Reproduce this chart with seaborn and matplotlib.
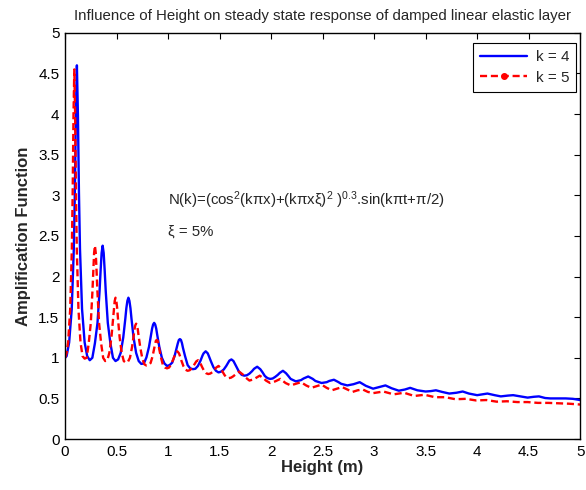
import numpy as np
import pandas as pd
import matplotlib
matplotlib.use("Agg")
import matplotlib.pyplot as plt
from matplotlib.lines import Line2D
import seaborn as sns

# ---- data ----
height_k4 = [0.0, 0.015, 0.04, 0.065, 0.085, 0.095, 0.105, 0.115, 0.125, 0.135, 0.145, 0.165, 0.19, 0.215, 0.24,
             0.265, 0.29, 0.315, 0.335, 0.345, 0.355, 0.365, 0.375, 0.385, 0.395, 0.415, 0.44, 0.465, 0.49,
             0.515, 0.54, 0.565, 0.585, 0.595, 0.605, 0.615, 0.625, 0.635, 0.645, 0.665, 0.69, 0.715, 0.74,
             0.765, 0.79, 0.815, 0.835, 0.845, 0.855, 0.865, 0.875, 0.885, 0.895, 0.915, 0.94, 0.965, 0.99,
             1.015, 1.04, 1.065, 1.085, 1.095, 1.105, 1.115, 1.125, 1.135, 1.145, 1.165, 1.19, 1.215, 1.24,
             1.265, 1.29, 1.315, 1.335, 1.345, 1.365, 1.385, 1.395, 1.415, 1.44, 1.465, 1.49,
             1.515, 1.54, 1.565, 1.585, 1.595, 1.615, 1.635, 1.645, 1.665, 1.69, 1.715, 1.74,
             1.765, 1.79, 1.815, 1.835, 1.865, 1.895, 1.915, 1.94, 1.965, 1.99,
             2.015, 2.04, 2.065, 2.085, 2.115, 2.145, 2.165, 2.19, 2.24,
             2.29, 2.315, 2.36, 2.405, 2.43, 2.49,
             2.54, 2.565, 2.61, 2.655, 2.68, 2.74,
             2.80, 2.86, 2.92, 2.99,
             3.05, 3.11, 3.17, 3.24,
             3.30, 3.35, 3.42, 3.50,
             3.55, 3.60, 3.66, 3.73,
             3.80, 3.86, 3.92, 4.00,
             4.05, 4.10, 4.17, 4.23,
             4.30, 4.35, 4.42, 4.49,
             4.55, 4.60, 4.66, 4.71,
             4.80, 4.86, 4.93, 5.00]
amp_k4 = [1.00, 1.02, 1.19, 1.60, 2.34, 3.03, 3.99, 4.60, 3.99, 3.03, 2.34, 1.60, 1.19, 1.02, 0.97,
          1.00, 1.18, 1.43, 1.82, 2.07, 2.29, 2.38, 2.29, 2.07, 1.82, 1.43, 1.18, 1.00, 0.96,
          0.98, 1.06, 1.25, 1.48, 1.61, 1.70, 1.74, 1.70, 1.61, 1.48, 1.25, 1.06, 0.96, 0.925,
          0.93, 1.005, 1.135, 1.28, 1.36, 1.41, 1.43, 1.41, 1.36, 1.28, 1.135, 1.00, 0.93, 0.90,
          0.91, 0.94, 1.03, 1.13, 1.18, 1.22, 1.23, 1.22, 1.18, 1.12, 1.02, 0.91, 0.87, 0.86,
          0.865, 0.90, 0.965, 1.03, 1.055, 1.08, 1.055, 1.025, 0.96, 0.885, 0.84, 0.82,
          0.83, 0.855, 0.90, 0.945, 0.965, 0.98, 0.96, 0.935, 0.885, 0.825, 0.79, 0.78,
          0.785, 0.805, 0.835, 0.865, 0.89, 0.86, 0.825, 0.775, 0.75, 0.74,
          0.745, 0.765, 0.79, 0.815, 0.84, 0.81, 0.78, 0.74, 0.71,
          0.725, 0.745, 0.77, 0.74, 0.715, 0.69,
          0.70, 0.715, 0.73, 0.70, 0.68, 0.66,
          0.675, 0.70, 0.655, 0.62,
          0.64, 0.66, 0.625, 0.595,
          0.61, 0.63, 0.60, 0.585,
          0.59, 0.60, 0.58, 0.56,
          0.57, 0.585, 0.56, 0.54,
          0.55, 0.56, 0.54, 0.525,
          0.535, 0.54, 0.525, 0.51,
          0.52, 0.525, 0.505, 0.50,
          0.50, 0.50, 0.495, 0.48]

height_k5 = [0.0, 0.015, 0.03, 0.05, 0.066, 0.074, 0.082, 0.09, 0.098, 0.106, 0.114, 0.13, 0.15, 0.17, 0.19,
             0.21, 0.23, 0.25, 0.266, 0.274, 0.282, 0.29, 0.298, 0.306, 0.314, 0.33, 0.35, 0.37, 0.39,
             0.41, 0.43, 0.45, 0.466, 0.474, 0.482, 0.49, 0.498, 0.506, 0.514, 0.53, 0.55, 0.57, 0.59,
             0.61, 0.63, 0.65, 0.666, 0.674, 0.682, 0.69, 0.698, 0.706, 0.714, 0.73, 0.75, 0.77, 0.79,
             0.81, 0.83, 0.85, 0.866, 0.874, 0.882, 0.89, 0.898, 0.906, 0.914, 0.93, 0.95, 0.97, 0.99,
             1.01, 1.03, 1.05, 1.066, 1.074, 1.09, 1.106, 1.114, 1.13, 1.15, 1.17, 1.19,
             1.21, 1.23, 1.25, 1.266, 1.274, 1.29, 1.306, 1.314, 1.33, 1.35, 1.37, 1.39,
             1.41, 1.43, 1.45, 1.466, 1.49, 1.514, 1.53, 1.55, 1.57, 1.59,
             1.61, 1.63, 1.65, 1.69, 1.73, 1.75, 1.79,
             1.83, 1.85, 1.89, 1.93, 1.95, 1.99,
             2.04, 2.09, 2.14, 2.19,
             2.24, 2.29, 2.34, 2.39,
             2.44, 2.49, 2.54, 2.59,
             2.64, 2.69, 2.74, 2.79,
             2.84, 2.89, 2.94, 2.99,
             3.09, 3.19, 3.29, 3.39, 3.49, 3.59, 3.69, 3.79, 3.89, 3.99,
             4.09, 4.19, 4.29, 4.39, 4.49, 4.59, 4.69, 4.79, 4.89, 5.00]
amp_k5 = [1.00, 1.06, 1.19, 1.60, 2.34, 3.03, 3.99, 4.55, 3.99, 3.03, 2.34, 1.60, 1.19, 1.02, 0.99,
          1.00, 1.18, 1.43, 1.82, 2.07, 2.29, 2.38, 2.29, 2.07, 1.82, 1.43, 1.18, 1.00, 0.96,
          0.97, 1.06, 1.25, 1.48, 1.61, 1.70, 1.74, 1.70, 1.61, 1.48, 1.25, 1.06, 0.96, 0.94,
          0.95, 1.00, 1.13, 1.27, 1.35, 1.40, 1.42, 1.40, 1.35, 1.27, 1.13, 0.99, 0.92, 0.905,
          0.91, 0.935, 1.02, 1.12, 1.17, 1.21, 1.22, 1.21, 1.17, 1.11, 1.01, 0.91, 0.88, 0.87,
          0.88, 0.92, 0.98, 1.035, 1.06, 1.08, 1.055, 1.027, 0.963, 0.895, 0.853, 0.84,
          0.847, 0.87, 0.907, 0.94, 0.956, 0.97, 0.952, 0.932, 0.887, 0.839, 0.81, 0.80,
          0.806, 0.823, 0.851, 0.878, 0.90, 0.866, 0.827, 0.784, 0.758, 0.75,
          0.755, 0.77, 0.79, 0.83, 0.79, 0.76, 0.72,
          0.735, 0.75, 0.78, 0.745, 0.72, 0.69,
          0.71, 0.74, 0.69, 0.66,
          0.68, 0.70, 0.66, 0.63,
          0.65, 0.67, 0.63, 0.60,
          0.62, 0.64, 0.61, 0.58,
          0.60, 0.61, 0.58, 0.565,
          0.585, 0.55, 0.57, 0.53, 0.545, 0.515, 0.515, 0.49, 0.495, 0.475,
          0.48, 0.46, 0.465, 0.455, 0.455, 0.445, 0.445, 0.44, 0.435, 0.425]

series_labels = ["k = 4", "k = 5"]
title_text = "Influence of Height on steady state response of damped linear elastic layer"
x_label = "Height (m)"
y_label = "Amplification Function"
formula_text = "N(k)=(cos$^{2}$(kπx)+(kπxξ)$^{2}$ )$^{0.3}$.sin(kπt+π/2)"
damping_text = "ξ = 5%"
x_ticks = [0, 0.5, 1, 1.5, 2, 2.5, 3, 3.5, 4, 4.5, 5]
y_ticks = [0, 0.5, 1, 1.5, 2, 2.5, 3, 3.5, 4, 4.5, 5]

df = pd.concat([
    pd.DataFrame({"Height": height_k4, "Amp": amp_k4, "k": series_labels[0]}),
    pd.DataFrame({"Height": height_k5, "Amp": amp_k5, "k": series_labels[1]}),
], ignore_index=True)

sns.set_style("white")
plt.rcParams['font.family'] = ['Liberation Sans', 'DejaVu Sans']
plt.rcParams['mathtext.fontset'] = 'custom'
plt.rcParams['mathtext.rm'] = 'Liberation Sans'
plt.rcParams['mathtext.it'] = 'Liberation Sans:italic'

fig = plt.figure(figsize=(5.86, 4.90), dpi=100)
ax = fig.add_axes([0.111, 0.104, 0.879, 0.829])

palette = {series_labels[0]: "#0000ff", series_labels[1]: "#ff0000"}
sns.lineplot(data=df, x="Height", y="Amp", hue="k", style="k", palette=palette,
             dashes={series_labels[0]: "", series_labels[1]: (3, 1.6)},
             linewidth=1.7, sort=False, estimator=None, legend=False, ax=ax)

ax.set_xlim(0, 5)
ax.set_ylim(0, 5)
ax.set_xticks(x_ticks)
ax.set_yticks(y_ticks)
ax.set_xticklabels([f"{t:g}" for t in x_ticks])
ax.set_yticklabels([f"{t:g}" for t in y_ticks])
ax.tick_params(direction='in', top=True, right=True, length=4, width=0.8,
               labelsize=11, colors='black', pad=4)
for s in ax.spines.values():
    s.set_color('black')
    s.set_linewidth(1.0)

ax.set_title(title_text, fontsize=10.8, pad=9)
ax.set_xlabel(x_label, fontsize=12, fontweight='bold', labelpad=1)
ax.set_ylabel(y_label, fontsize=12, fontweight='bold', labelpad=5)

ax.text(1.0, 2.94, formula_text, fontsize=10.8, va='center', ha='left')
ax.text(1.0, 2.55, damping_text, fontsize=10.8, va='center', ha='left')

handles = [Line2D([], [], color="#0000ff", lw=1.7, ls='-'),
           Line2D([], [], color="#ff0000", lw=1.7, ls=(0, (3, 1.6)), marker='.', markersize=8)]
leg = ax.legend(handles, series_labels, loc='upper right', bbox_to_anchor=(0.992, 0.975),
                borderaxespad=0.0,
                fontsize=11, frameon=True, fancybox=False, framealpha=1,
                edgecolor='black', handlelength=3.1, borderpad=0.45, labelspacing=0.45,
                handletextpad=0.55)
leg.get_frame().set_linewidth(0.8)

fig.savefig("out.png", dpi=100, facecolor='white')
